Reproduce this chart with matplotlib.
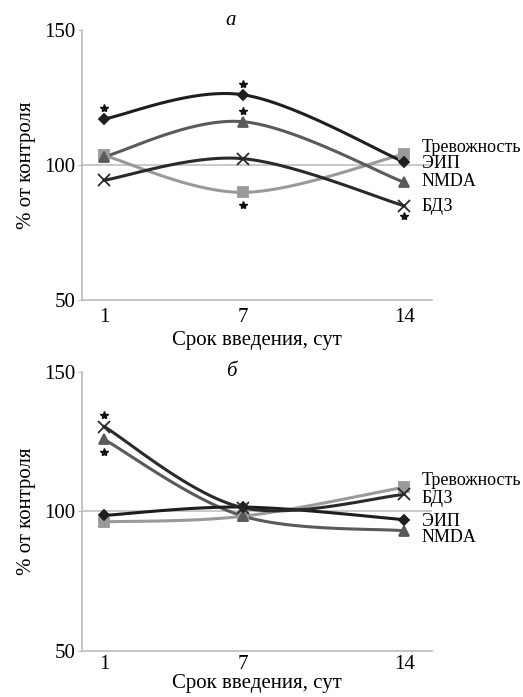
import numpy as np
import matplotlib
matplotlib.use("Agg")
import matplotlib.pyplot as plt

plt.rcParams['font.family'] = ['Liberation Serif', 'DejaVu Serif']

days = [1, 7, 14]

# panel a
a_eip = [117, 126, 101]
a_nmda = [103, 116, 93.5]
a_anx = [103.5, 89.8, 104]
a_bdz = [94.3, 102.3, 84.8]
a_star_x = [1, 7, 7, 7, 14]
a_star_y = [121, 129.8, 119.8, 85, 81]
a_labels = ['Тревожность', 'ЭИП', 'NMDA', 'БДЗ']
a_label_y = [106.5, 100.5, 93.8, 84.5]

# panel b
b_eip = [98.5, 101.5, 97]
b_nmda = [125.7, 98.3, 93]
b_anx = [96.2, 98.2, 108.6]
b_bdz = [130.3, 101.3, 106]
b_star_x = [1, 1]
b_star_y = [134.3, 121.2]
b_labels = ['Тревожность', 'БДЗ', 'ЭИП', 'NMDA']
b_label_y = [111, 104.4, 96.2, 90.5]


def smooth(x, y, n=60):
  # Excel-style smoothed line (Catmull-Rom as cubic Bezier)
  P = np.column_stack([x, y]).astype(float)
  P = np.vstack([P[0], P, P[-1]])
  t = np.linspace(0, 1, n)[:, None]
  out = []
  for i in range(1, len(P) - 2):
    p0, p3 = P[i], P[i + 1]
    c1 = p0 + (P[i + 1] - P[i - 1]) / 6
    c2 = p3 - (P[i + 2] - P[i]) / 6
    seg = (1 - t)**3 * p0 + 3 * (1 - t)**2 * t * c1 + 3 * (1 - t) * t**2 * c2 + t**3 * p3
    out.append(seg)
  s = np.vstack(out)
  return s[:, 0], s[:, 1]


series_style = {
  'eip': dict(color='#1e1e1e', marker='D', ms=5),
  'nmda': dict(color='#5a5a5a', marker='^', ms=6.5),
  'anx': dict(color='#9a9a9a', marker='s', ms=6.5),
  'bdz': dict(color='#2a2a2a', marker='x', ms=8),
}


def draw(ax, data, stars_x, stars_y, labels, label_y, title, title_y, xpad):
  ax.axhline(100, color='#c0c0c0', lw=1.2, zorder=1)
  for key, vals in data:
    st = series_style[key]
    sx, sy = smooth(days, vals)
    ax.plot(sx, sy, color=st['color'], lw=2.2, zorder=2)
    ax.plot(days, vals, ls='none', marker=st['marker'], ms=st['ms'],
            color=st['color'], mew=1.3, zorder=3)
  ax.plot(stars_x, stars_y, ls='none', marker='*', ms=6, color='#111111', zorder=4)
  for lab, yy in zip(labels, label_y):
    ax.text(14.75, yy, lab, fontsize=13, va='center', ha='left')
  ax.set_xlim(0.05, 15.2)
  ax.set_ylim(50, 150)
  ax.set_xticks(days)
  ax.set_yticks([50, 100, 150])
  ax.tick_params(axis='both', labelsize=15, length=3, color='#bbbbbb')
  ax.tick_params(axis='y', pad=2)
  ax.tick_params(axis='x', length=0, pad=xpad)
  for s in ['top', 'right']:
    ax.spines[s].set_visible(False)
  for s in ['left', 'bottom']:
    ax.spines[s].set_color('#bbbbbb')
    ax.spines[s].set_linewidth(1.2)
  ax.set_ylabel('% от контроля', fontsize=15, labelpad=6)
  ax.set_xlabel('Срок введения, сут', fontsize=15, labelpad=xpad - 3)
  ax.text(6.5, title_y, title, fontsize=15, style='italic', ha='center', va='center')


fig = plt.figure(figsize=(5.23, 6.97), dpi=100)
ax1 = fig.add_axes([0.157, 0.570, 0.669, 0.387])
ax2 = fig.add_axes([0.157, 0.066, 0.669, 0.401])

draw(ax1, [('anx', a_anx), ('nmda', a_nmda), ('bdz', a_bdz), ('eip', a_eip)],
     a_star_x, a_star_y, a_labels, a_label_y, 'а', 153.5, 6)
draw(ax2, [('anx', b_anx), ('nmda', b_nmda), ('eip', b_eip), ('bdz', b_bdz)],
     b_star_x, b_star_y, b_labels, b_label_y, 'б', 150, 3)

fig.savefig('out.png', dpi=100)
